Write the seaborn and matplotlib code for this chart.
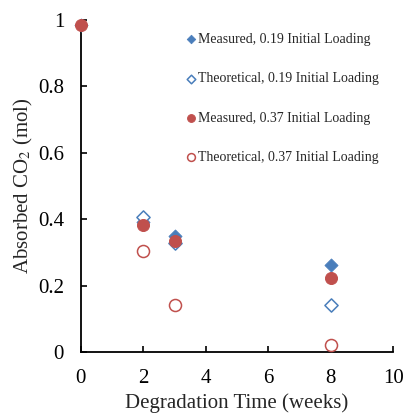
import pandas as pd
import seaborn as sns
import matplotlib.pyplot as plt

weeks = [0, 2, 3, 8]
meas_019 = [0.985, 0.39, 0.348, 0.263]
theo_019 = [None, 0.405, 0.328, 0.142]
meas_037 = [0.985, 0.382, 0.335, 0.222]
theo_037 = [None, 0.305, 0.142, 0.02]

labels = ["Measured, 0.19 Initial Loading", "Theoretical, 0.19 Initial Loading",
          "Measured, 0.37 Initial Loading", "Theoretical, 0.37 Initial Loading"]

blue = "#4A7EBB"
red = "#C0504D"

sns.set_style("white")
plt.rcParams["font.family"] = ["Liberation Serif", "DejaVu Serif"]
plt.rcParams["mathtext.fontset"] = "stix"

fig, ax = plt.subplots(figsize=(4.08, 4.16), dpi=100)
fig.subplots_adjust(left=0.198, right=0.964, bottom=0.154, top=0.952)

styles = [
  (meas_019, dict(marker="D", color=blue, edgecolor=blue, s=45)),
  (theo_019, dict(marker="D", facecolor="white", edgecolor=blue, s=45, linewidth=1.1)),
  (meas_037, dict(marker="o", color=red, edgecolor=red, s=75)),
  (theo_037, dict(marker="o", facecolor="white", edgecolor=red, s=75, linewidth=1.1)),
]
for (vals, kw), lab in zip(styles, labels):
  df = pd.DataFrame({"x": weeks, "y": vals}).dropna()
  sns.scatterplot(data=df, x="x", y="y", ax=ax, label=lab, clip_on=False, zorder=3, **kw)

ax.set_xlim(0, 10)
ax.set_ylim(0, 1)
ax.set_xticks([0, 2, 4, 6, 8, 10])
ax.set_yticks([0, 0.2, 0.4, 0.6, 0.8, 1])
ax.set_yticklabels(["0", "0.2", "0.4", "0.6", "0.8", "1"])
ax.tick_params(bottom=True, left=True, direction="in", length=4, width=1.2,
               labelsize=15, colors="black", pad=12)
ax.tick_params(axis="x", pad=12)
for side in ["top", "right"]:
  ax.spines[side].set_visible(False)
for side in ["left", "bottom"]:
  ax.spines[side].set_color("black")
  ax.spines[side].set_linewidth(1.3)

ax.set_xlabel("Degradation Time (weeks)", fontsize=15, labelpad=4)
ax.set_ylabel("Absorbed CO$_2$ (mol)", fontsize=15, labelpad=2)

ax.legend(loc="upper left", bbox_to_anchor=(0.318, 0.978), frameon=False, fontsize=10,
          handletextpad=0.1, labelspacing=1.9, handlelength=0.8, borderaxespad=0,
          markerscale=0.65)

plt.savefig("out.png", dpi=100)
